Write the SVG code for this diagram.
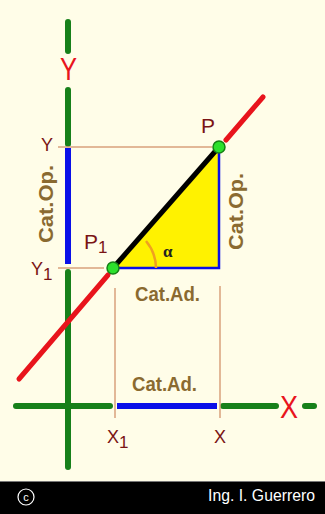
<svg xmlns="http://www.w3.org/2000/svg" width="325" height="514" viewBox="0 0 325 514">
<style>
.ax{stroke:#17801a;stroke-width:6;stroke-linecap:round;fill:none}
.bl{stroke:#0a10e8;stroke-width:6;fill:none}
.th{stroke:#d9a07c;stroke-width:1.5;fill:none}
.lbl{font-family:"Liberation Sans",Arial,sans-serif;fill:#7a1414}
.cat{font-family:"Liberation Sans",Arial,sans-serif;font-weight:bold;font-size:20px;fill:#8a6a30}
.big{font-family:"Liberation Sans",Arial,sans-serif;fill:#e8141c;font-size:32px}
.dot{fill:#2ce02c;stroke:#158015;stroke-width:1.5}
</style>
<rect width="325" height="514" fill="#fffde8"/>
<g id="connectors">
<line class="ax" x1="68" y1="22" x2="68" y2="51"/>
<line class="ax" x1="68" y1="90" x2="68" y2="144"/>
<line class="ax" x1="68" y1="272" x2="68" y2="467"/>
<line class="bl" x1="68" y1="148" x2="68" y2="264"/>
<line class="ax" x1="16" y1="406" x2="110" y2="406"/>
<line class="bl" x1="117" y1="406" x2="217" y2="406"/>
<line class="ax" x1="223" y1="406" x2="276" y2="406"/>
<line class="ax" x1="305" y1="406" x2="314" y2="406"/>
<line class="th" x1="58" y1="147" x2="212" y2="147"/>
<line class="th" x1="58" y1="268" x2="104" y2="268"/>
<line class="th" x1="115" y1="288" x2="115" y2="418"/>
<line class="th" x1="220" y1="286" x2="220" y2="418"/>
<line x1="226" y1="140" x2="263" y2="97" stroke="#e8141c" stroke-width="5" stroke-linecap="round"/>
<line x1="108" y1="275" x2="19" y2="379" stroke="#e8141c" stroke-width="5" stroke-linecap="round"/>
</g>
<g id="triangle">
<polygon points="113,268 219,268 219,147" fill="#fff200"/>
<polyline points="113,268 219,268 219,147" fill="none" stroke="#0a10e8" stroke-width="2.5"/>
<line x1="113" y1="268" x2="219" y2="147" stroke="#000" stroke-width="5"/>
<path d="M146,241 A43,43 0 0 1 156,268" fill="none" stroke="#f0a020" stroke-width="2.5"/>
<text x="163" y="257" font-family="'Liberation Serif',serif" font-size="17" font-weight="bold" fill="#222">α</text>
</g>
<g id="P"><circle class="dot" cx="219" cy="147" r="6"/><text class="lbl" x="201" y="133" font-size="21">P</text></g>
<g id="P1"><circle class="dot" cx="113" cy="268" r="6"/><text class="lbl" x="84" y="249" font-size="21">P<tspan font-size="17" dy="4">1</tspan></text></g>
<g id="Ylabel"><text class="big" x="60" y="80" textLength="17" lengthAdjust="spacingAndGlyphs">Y</text></g>
<g id="Xlabel"><text class="big" x="280" y="418" textLength="18" lengthAdjust="spacingAndGlyphs">X</text></g>
<g id="Yp"><text class="lbl" x="41" y="151" font-size="18">Y</text></g>
<g id="Y1"><text class="lbl" x="31" y="275" font-size="18">Y<tspan font-size="17" dy="5">1</tspan></text></g>
<g id="X1"><text class="lbl" x="107" y="443" font-size="18">X<tspan font-size="17" dy="5">1</tspan></text></g>
<g id="Xp"><text class="lbl" x="214" y="443" font-size="18">X</text></g>
<g id="catop1"><text class="cat" transform="translate(53,243) rotate(-90)" textLength="78" lengthAdjust="spacingAndGlyphs">Cat.Op.</text></g>
<g id="catop2"><text class="cat" transform="translate(243,250) rotate(-90)" textLength="77" lengthAdjust="spacingAndGlyphs">Cat.Op.</text></g>
<g id="catad1"><text class="cat" x="135" y="301" textLength="65" lengthAdjust="spacingAndGlyphs">Cat.Ad.</text></g>
<g id="catad2"><text class="cat" x="132" y="391" textLength="65" lengthAdjust="spacingAndGlyphs">Cat.Ad.</text></g>
<g id="footer">
<rect x="0" y="481" width="325" height="33" fill="#000"/>
<line x1="0" y1="481.5" x2="325" y2="481.5" stroke="#777" stroke-width="1"/>
<circle cx="26" cy="497" r="8" fill="none" stroke="#fff" stroke-width="1.2"/>
<text x="26" y="501" font-family="'Liberation Sans',Arial,sans-serif" font-size="11" fill="#fff" text-anchor="middle">c</text>
<text x="208" y="501" font-family="'Liberation Sans',Arial,sans-serif" font-size="17" fill="#fff" textLength="107" lengthAdjust="spacingAndGlyphs">Ing. I. Guerrero</text>
</g>
</svg>
